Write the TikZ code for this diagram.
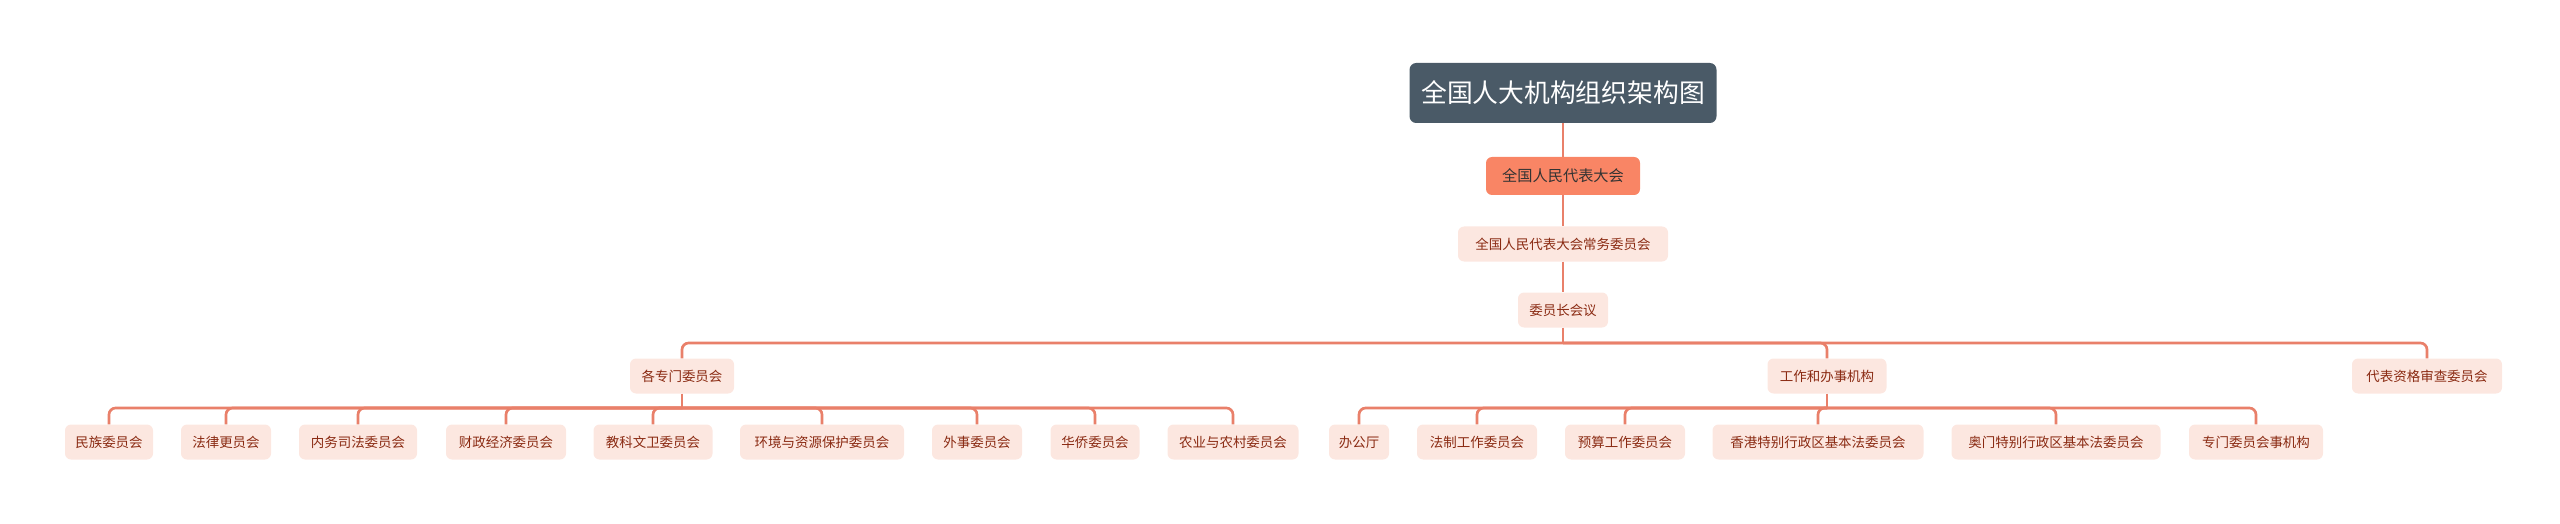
\documentclass[tikz,border=0pt]{standalone}
\usepackage{fontspec}
\setmainfont{Noto Sans CJK SC}
\definecolor{linkc}{HTML}{E9806A}
\definecolor{leaffill}{HTML}{FCE7E0}
\definecolor{leaftext}{HTML}{8A2A12}
\definecolor{npcfill}{HTML}{F98565}
\definecolor{titlefill}{HTML}{4A5A67}
\tikzset{
  box/.style={rounded corners=1.8mm, inner sep=0pt, minimum height=10.5mm, fill=leaffill, text=leaftext, font=\fontsize{11.5}{12}\selectfont},
  leaf/.style={box},
  rootbox/.style={box, fill=titlefill, text=white, minimum height=18mm, rounded corners=2mm, font=\fontsize{22}{24}\selectfont},
  npcbox/.style={box, fill=npcfill, text=black!80, minimum height=11.4mm, font=\fontsize{13}{14}\selectfont},
  link/.style={draw=linkc, line width=0.8mm, rounded corners=2mm}
}
\begin{document}
\begin{tikzpicture}[x=0.3mm,y=-0.3mm]
\useasboundingbox (0,0) rectangle (2560,524);
% top chain
\node[rootbox, minimum width=92.1mm] (root) at (1563,93) {全国人大机构组织架构图};
\node[npcbox, minimum width=46.2mm] (npc) at (1563,176) {全国人民代表大会};
\node[box, minimum width=63mm] (standing) at (1563,244) {全国人民代表大会常务委员会};
\node[box, minimum width=27mm] (chair) at (1563,310) {委员长会议};
\draw[link] (root) -- (npc);
\draw[link] (npc) -- (standing);
\draw[link] (standing) -- (chair);
% second level
\node[box, minimum width=31.2mm] (special) at (682,376) {各专门委员会};
\node[box, minimum width=35.7mm] (work) at (1827,376) {工作和办事机构};
\node[box, minimum width=45mm] (qual) at (2427,376) {代表资格审查委员会};
\draw[link] (chair.south) -- (1563,343) coordinate (j0);
\foreach \n in {special,work,qual}
  \draw[link] (j0) -| (\n.north);
% committees
\foreach \name/\x/\w/\t in {
  l1/109/88/民族委员会, l2/226/90/法律更员会, l3/358/118/内务司法委员会,
  l4/506/120/财政经济委员会, l5/653/119/教科文卫委员会, l6/822/164/环境与资源保护委员会,
  l7/977/90/外事委员会, l8/1095/89/华侨委员会, l9/1233/131/农业与农村委员会}
  \node[leaf, minimum width={\w*0.3mm}] (\name) at (\x,442) {\t};
\draw[link] (special.south) -- (682,408) coordinate (j1);
\foreach \n in {l1,l2,l3,l4,l5,l6,l7,l8,l9}
  \draw[link] (j1) -| (\n.north);
% offices
\foreach \name/\x/\w/\t in {
  r1/1359/60/办公厅, r2/1477/120/法制工作委员会, r3/1625/120/预算工作委员会,
  r4/1818/211/香港特别行政区基本法委员会, r5/2056/209/奥门特别行政区基本法委员会,
  r6/2256/134/专门委员会事机构}
  \node[leaf, minimum width={\w*0.3mm}] (\name) at (\x,442) {\t};
\draw[link] (work.south) -- (1827,408) coordinate (j2);
\foreach \n in {r1,r2,r3,r4,r5,r6}
  \draw[link] (j2) -| (\n.north);
\end{tikzpicture}
\end{document}
